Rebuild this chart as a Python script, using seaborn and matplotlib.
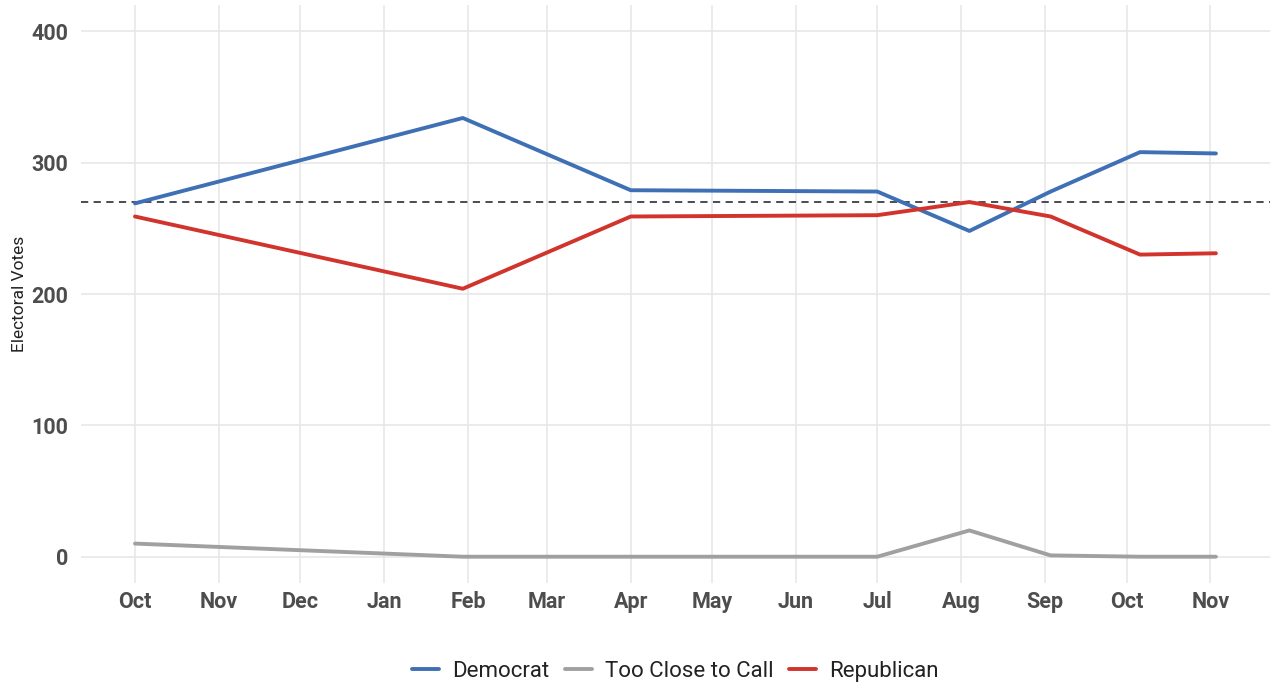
import matplotlib
matplotlib.use("Agg")
import matplotlib.pyplot as plt
import matplotlib.dates as mdates
import seaborn as sns
import pandas as pd

dates = ["2019-10-01", "2020-01-30", "2020-04-01", "2020-07-01",
         "2020-08-04", "2020-09-03", "2020-10-06", "2020-11-03"]
democrat = [269, 334, 279, 278, 248, 278, 308, 307]
too_close = [10, 0, 0, 0, 20, 1, 0, 0]
republican = [259, 204, 259, 260, 270, 259, 230, 231]
series_names = ["Democrat", "Too Close to Call", "Republican"]
colors = ["#3f70b5", "#a0a0a0", "#d1342c"]
threshold = 270

rows = []
for name, vals in zip(series_names, [democrat, too_close, republican]):
    for d, v in zip(dates, vals):
        rows.append({"date": pd.Timestamp(d), "votes": v, "party": name})
df = pd.DataFrame(rows)

sns.set_theme(style="whitegrid")
plt.rcParams["font.family"] = ["Roboto", "DejaVu Sans"]

fig = plt.figure(figsize=(12.73, 6.87), dpi=100)
ax = fig.add_axes([0.0636, 0.1514, 0.934, 0.8413])

sns.lineplot(data=df, x="date", y="votes", hue="party",
             palette=dict(zip(series_names, colors)), hue_order=series_names,
             linewidth=2.8, ax=ax, legend=True)
ax.axhline(threshold, color="#3a3f45", linestyle=(0, (4, 3)), linewidth=1.3, zorder=1)

start = pd.Timestamp(dates[0]); end = pd.Timestamp(dates[-1])
span = end - start
ax.set_xlim(start - span * 0.05, end + span * 0.05)
ax.set_ylim(-20, 420)
ax.set_yticks([0, 100, 200, 300, 400])
ax.xaxis.set_major_locator(mdates.MonthLocator())
ax.xaxis.set_major_formatter(mdates.DateFormatter("%b"))

for s in ax.spines.values():
    s.set_visible(False)
ax.grid(True, color="#e6e6e6", linewidth=1.1)
ax.tick_params(axis="x", length=0, labelsize=15.5, labelcolor="#4d4d4d", pad=6)
ax.tick_params(axis="y", length=0, labelsize=15.5, labelcolor="#4d4d4d", pad=9)
for lab in ax.get_xticklabels() + ax.get_yticklabels():
    lab.set_fontweight("bold")
ax.set_xlabel("")
ax.set_ylabel("Electoral Votes", fontsize=12.5, color="#222222", labelpad=3)

handles, labels = ax.get_legend_handles_labels()
ax.legend(handles, labels, loc="upper center", bbox_to_anchor=(0.5, -0.10),
          ncol=3, frameon=False, fontsize=16, handlelength=1.2,
          columnspacing=0.7, handletextpad=0.6, labelcolor="#222222")

fig.savefig("out.png", dpi=100)
